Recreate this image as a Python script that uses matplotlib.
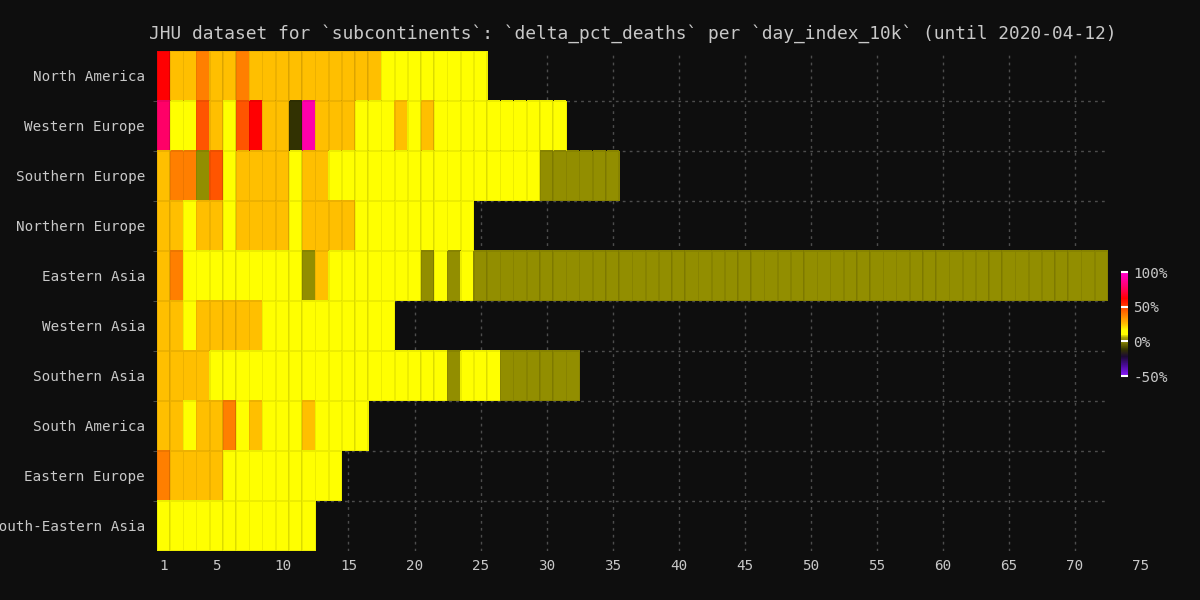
import matplotlib
matplotlib.use("Agg")
import matplotlib.pyplot as plt
import numpy as np
from matplotlib.colors import LinearSegmentedColormap, Normalize

# Subcontinents (top to bottom)
regions = [
    "North America", "Western Europe", "Southern Europe", "Northern Europe",
    "Eastern Asia", "Western Asia", "Southern Asia", "South America",
    "Eastern Europe", "South-Eastern Asia",
]

# delta_pct_deaths per day_index_10k (values in %)
north_america = [62, 25, 25, 38, 25, 25, 38, 25, 25, 25, 25, 25, 25, 25, 25, 25, 25,
                 10, 10, 10, 10, 10, 10, 10, 10]
western_europe = [78, 10, 10, 47, 25, 10, 47, 62, 25, 25, -12, 92, 25, 25, 25, 10, 10, 10,
                  25, 10, 25, 10, 10, 10, 10, 10, 10, 10, 10, 10, 10]
southern_europe = [25, 38, 38, 2, 47, 10, 25, 25, 25, 25, 10, 25, 25,
                   10, 10, 10, 10, 10, 10, 10, 10, 10, 10, 10, 10, 10, 10, 10, 10,
                   2, 2, 2, 2, 2, 2]
northern_europe = [25, 25, 10, 25, 25, 10, 25, 25, 25, 25, 10, 25, 25, 25, 25,
                   10, 10, 10, 10, 10, 10, 10, 10, 10]
eastern_asia = [25, 38, 10, 10, 10, 10, 10, 10, 10, 10, 10, 2, 25,
                10, 10, 10, 10, 10, 10, 10, 2, 10, 2, 10,
                2, 2, 2, 2, 2, 2, 2, 2, 2, 2, 2, 2, 2, 2, 2, 2,
                2, 2, 2, 2, 2, 2, 2, 2, 2, 2, 2, 2, 2, 2, 2, 2,
                2, 2, 2, 2, 2, 2, 2, 2, 2, 2, 2, 2, 2, 2, 2, 2]
western_asia = [25, 25, 10, 25, 25, 25, 25, 25, 10, 10, 10, 10, 10, 10, 10, 10, 10, 10]
southern_asia = [25, 25, 25, 25, 10, 10, 10, 10, 10, 10, 10, 10, 10, 10, 10, 10, 10, 10,
                 10, 10, 10, 10, 2, 10, 10, 10, 2, 2, 2, 2, 2, 2]
south_america = [25, 25, 10, 25, 25, 38, 10, 25, 10, 10, 10, 25, 10, 10, 10, 10]
eastern_europe = [38, 25, 25, 25, 25, 10, 10, 10, 10, 10, 10, 10, 10, 10]
south_eastern_asia = [10, 10, 10, 10, 10, 10, 10, 10, 10, 10, 10, 10]

rows = [north_america, western_europe, southern_europe, northern_europe, eastern_asia,
        western_asia, southern_asia, south_america, eastern_europe, south_eastern_asia]

x_ticks = [1, 5, 10, 15, 20, 25, 30, 35, 40, 45, 50, 55, 60, 65, 70]
cbar_ticks = [-50, 0, 50, 100]

# colour scale
anchors = [
    (-50, "#8a1aff"), (-35, "#4a0a99"), (-22, "#1c0a33"), (-12, "#333300"),
    (0, "#8a8600"), (2, "#938f00"), (6, "#b3b000"), (10, "#ffff00"), (16, "#ffff00"),
    (25, "#ffc000"), (38, "#ff8000"), (47, "#ff5500"), (62, "#ff0000"),
    (78, "#ff0066"), (92, "#ff00aa"), (100, "#ff00cc"),
]
vmin, vmax = -50, 100
cmap = LinearSegmentedColormap.from_list(
    "deaths", [((v - vmin) / (vmax - vmin), c) for v, c in anchors], N=256)
norm = Normalize(vmin=vmin, vmax=vmax)

ncols = max(len(r) for r in rows)
grid = np.full((len(rows), ncols), np.nan)
for i, r in enumerate(rows):
    grid[i, :len(r)] = r
grid = np.ma.masked_invalid(grid)

bg = "#0e0e0e"
fg = "#c8c8c8"
plt.rcParams["font.family"] = ["DejaVu Sans Mono"]

fig = plt.figure(figsize=(12, 6), dpi=100, facecolor=bg)
ax = fig.add_axes([0.1308, 0.0817, 0.7925, 0.8333], facecolor=bg)

xedges = np.arange(ncols + 1) + 0.5
yedges = np.arange(len(rows) + 1) - 0.5
ax.pcolor(xedges, yedges, grid, cmap=cmap, norm=norm,
          edgecolors=(0, 0, 0, 0.07), linewidth=0.5, antialiased=False)

ax.set_xlim(0.5, ncols + 0.5)
ax.set_ylim(len(rows) - 0.5, -0.5)

ax.set_xticks(x_ticks)
ax.set_yticks(range(len(rows)))
ax.set_yticklabels(regions)
ax.set_yticks(np.arange(len(rows) - 1) + 0.5, minor=True)
ax.tick_params(axis="both", which="major", length=0, colors=fg, labelsize=10.3)
ax.tick_params(axis="y", which="major", pad=8.5)
ax.tick_params(axis="x", which="major", pad=6)
ax.tick_params(axis="y", which="minor", length=3, color="#555555")
ax.annotate("75", xy=(75, 0), xycoords=("data", "axes fraction"),
            xytext=(0, -6), textcoords="offset points", ha="center", va="top",
            color=fg, fontsize=10.3, annotation_clip=False)

ax.set_axisbelow(True)
ax.grid(True, which="major", axis="x", color="#4d4d4d", linestyle=(0, (2, 3)), linewidth=1)
ax.grid(True, which="minor", axis="y", color="#4d4d4d", linestyle=(0, (2, 3)), linewidth=1)
for s in ax.spines.values():
    s.set_visible(False)

ax.set_title("JHU dataset for `subcontinents`: `delta_pct_deaths` per `day_index_10k` (until 2020-04-12)",
             color=fg, fontsize=12.9, pad=9)

# colour bar
cax = fig.add_axes([0.934, 0.3733, 0.006, 0.1733])
sm = plt.cm.ScalarMappable(cmap=cmap, norm=norm)
cb = fig.colorbar(sm, cax=cax, ticks=cbar_ticks)
cb.outline.set_visible(False)
cb.ax.set_yticklabels([f"{t}%" for t in cbar_ticks])
cb.ax.tick_params(direction="in", length=5.2, width=1.5, color="white",
                  labelcolor=fg, labelsize=10.3, pad=4)

fig.savefig("out.png", facecolor=bg)
